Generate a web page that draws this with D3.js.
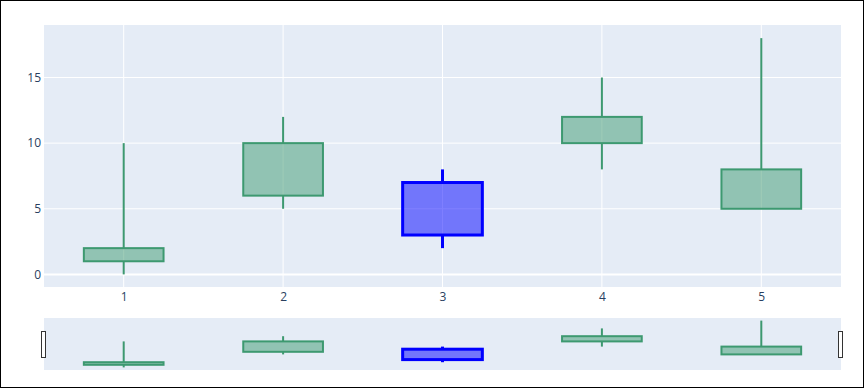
<!DOCTYPE html>
<html>
<head>
<meta charset="utf-8">
<script src="https://cdn.jsdelivr.net/npm/d3@7"></script>
<style>
  body { margin: 0; background: #fff; }
  svg { display: block; }
  .tick text { font-family: "Open Sans", sans-serif; font-size: 12px; fill: #2a3f5f; }
</style>
</head>
<body>
<script>
// --- Data ---
var xs = [1, 2, 3, 4, 5];
var opens = [1, 6, 7, 10, 5];
var highs = [10, 12, 8, 15, 18];
var lows = [0, 5, 2, 8, 5];
var closes = [2, 10, 3, 12, 8];
var yTicks = [0, 5, 10, 15];

var w = 864, h = 388;
var plotLeft = 44, plotRight = 841, plotTop = 25, plotBottom = 287;
var slTop = 318, slBottom = 370;

var incColor = "#3D9970", decColor = "blue";

var data = xs.map(function(x, i) {
    return { x: x, open: opens[i], high: highs[i], low: lows[i], close: closes[i] };
});

var svg = d3.select("body").append("svg")
    .attr("width", w)
    .attr("height", h);

svg.append("rect")
    .attr("x", 0.5).attr("y", 0.5)
    .attr("width", w - 1).attr("height", h - 1)
    .style("fill", "#fff").style("stroke", "#000");

// --- Scales ---
var x = d3.scaleLinear().domain([0.5, 5.5]).range([plotLeft, plotRight]);
var y = d3.scaleLinear().domain([-0.96, 19]).range([plotBottom, plotTop]);
var ySl = d3.scaleLinear().domain([-1, 19]).range([slBottom, slTop]);
var boxW = (x(1.5) - x(1)); // half the category spacing

// --- Main plot background ---
svg.append("rect")
    .attr("x", plotLeft).attr("y", plotTop)
    .attr("width", plotRight - plotLeft).attr("height", plotBottom - plotTop)
    .style("fill", "#E5ECF6");

// grid
svg.append("g").selectAll("line")
    .data(xs).enter().append("line")
    .attr("x1", d => x(d)).attr("x2", d => x(d))
    .attr("y1", plotTop).attr("y2", plotBottom)
    .style("stroke", "#fff").style("stroke-width", 1);

svg.append("g").selectAll("line")
    .data(yTicks).enter().append("line")
    .attr("x1", plotLeft).attr("x2", plotRight)
    .attr("y1", d => y(d)).attr("y2", d => y(d))
    .style("stroke", "#fff")
    .style("stroke-width", d => d === 0 ? 2 : 1);

// --- Axes ---
var xAxis = svg.append("g")
    .attr("transform", "translate(0," + plotBottom + ")")
    .call(d3.axisBottom(x).tickValues(xs).tickSize(0).tickPadding(5).tickFormat(d3.format("d")));
xAxis.select(".domain").remove();

var yAxis = svg.append("g")
    .attr("transform", "translate(" + plotLeft + ",0)")
    .call(d3.axisLeft(y).tickValues(yTicks).tickSize(0).tickPadding(3));
yAxis.select(".domain").remove();

// --- Candles ---
function drawCandles(g, ys) {
    var c = g.selectAll("g.candle").data(data).enter().append("g")
        .attr("class", "candle");
    var col = d => d.close >= d.open ? incColor : decColor;
    var width = d => d.close >= d.open ? 2 : 3;
    c.append("line")
        .attr("x1", d => x(d.x)).attr("x2", d => x(d.x))
        .attr("y1", d => ys(d.high)).attr("y2", d => ys(Math.max(d.open, d.close)))
        .style("stroke", col).style("stroke-width", width);
    c.append("line")
        .attr("x1", d => x(d.x)).attr("x2", d => x(d.x))
        .attr("y1", d => ys(d.low)).attr("y2", d => ys(Math.min(d.open, d.close)))
        .style("stroke", col).style("stroke-width", width);
    c.append("rect")
        .attr("x", d => x(d.x) - boxW / 2)
        .attr("width", boxW)
        .attr("y", d => ys(Math.max(d.open, d.close)))
        .attr("height", d => Math.abs(ys(d.open) - ys(d.close)))
        .style("fill", col).style("fill-opacity", 0.5)
        .style("stroke", col).style("stroke-width", width);
}

drawCandles(svg.append("g"), y);

// --- Range slider ---
svg.append("rect")
    .attr("x", plotLeft).attr("y", slTop)
    .attr("width", plotRight - plotLeft).attr("height", slBottom - slTop)
    .style("fill", "#E5ECF6");

drawCandles(svg.append("g"), ySl);

var handles = [0.5, 5.5];
svg.selectAll("rect.handle").data(handles).enter().append("rect")
    .attr("class", "handle")
    .attr("x", d => x(d) - 2.5)
    .attr("y", 331.5)
    .attr("width", 4).attr("height", 26)
    .style("fill", "#fff").style("stroke", "#333").style("stroke-width", 1);
</script>
</body>
</html>
